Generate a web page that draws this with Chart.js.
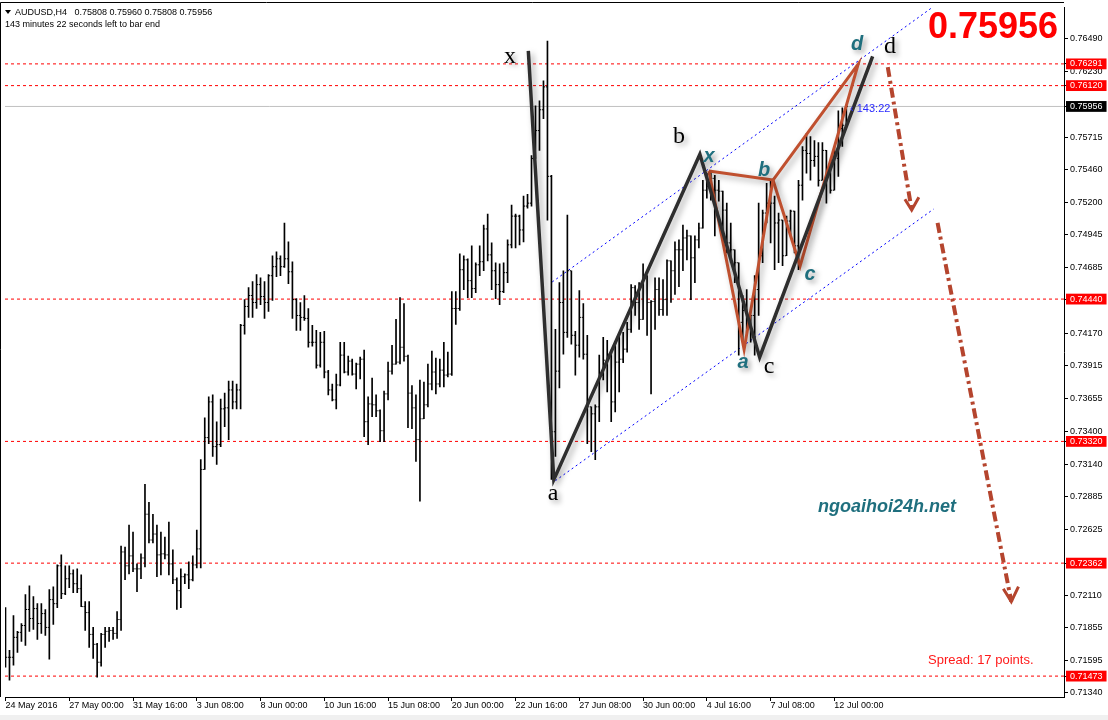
<!DOCTYPE html>
<html>
<head>
<meta charset="utf-8">
<script src="https://cdn.jsdelivr.net/npm/chart.js@4.4.1/dist/chart.umd.min.js"></script>
<style>
  html, body { margin: 0; padding: 0; background: #fff; }
  #chart { display: block; }
</style>
</head>
<body>
<canvas id="chart" width="1108" height="720"></canvas>
<script>
// AUDUSD H4, 24 May 2016 08:00 .. 12 Jul 2016 12:00 (one value per bar)
const opens = [
  0.71598,0.71621,0.71621,0.71778,0.71817,0.71871,0.71997,0.71926,0.72004,0.71887,
  0.71965,0.71856,0.72075,0.72043,0.72341,0.72122,0.72239,0.72278,0.72200,0.72161,
  0.72020,0.71973,0.71801,0.71723,0.71582,0.71801,0.71825,0.71832,0.71809,0.71918,
  0.72450,0.72341,0.72419,0.72317,0.72317,0.72403,0.72747,0.72544,0.72591,0.72427,
  0.72435,0.72427,0.72356,0.72231,0.72145,0.72255,0.72270,0.72231,0.72348,0.72474,
  0.73099,0.73350,0.73631,0.73279,0.73295,0.73576,0.73584,0.73725,0.73631,0.73725,
  0.74233,0.74382,0.74468,0.74413,0.74554,0.74460,0.74413,0.74624,0.74695,0.74757,
  0.74695,0.74757,0.74655,0.74436,0.74311,0.74296,0.74288,0.74100,0.74100,0.73920,
  0.74100,0.73866,0.73725,0.73647,0.73764,0.73999,0.73866,0.73952,0.73850,0.73928,
  0.73967,0.73475,0.73615,0.73608,0.73561,0.73404,0.73694,0.73873,0.73928,0.73944,
  0.74061,0.73990,0.73700,0.73584,0.73334,0.73498,0.73608,0.73772,0.73866,0.73772,
  0.73881,0.73842,0.73850,0.74366,0.74366,0.74671,0.74749,0.74585,0.74523,0.74710,
  0.74734,0.74992,0.74788,0.74663,0.74554,0.74499,0.74648,0.74867,0.75093,0.75093,
  0.74984,0.75172,0.75195,0.75547,0.75766,0.75930,0.76110,0.75406,0.73396,0.73873,
  0.74413,0.74178,0.74663,0.74155,0.74077,0.74296,0.74006,0.73592,0.73537,0.73592,
  0.73842,0.73959,0.74006,0.73631,0.73944,0.73967,0.74046,0.74202,0.74530,0.74413,
  0.74280,0.74624,0.74413,0.74421,0.74515,0.74358,0.74436,0.74741,0.74663,0.74828,
  0.74828,0.74921,0.74937,0.74765,0.74906,0.74999,0.75297,0.75328,0.75390,0.75297,
  0.75289,0.75140,0.74882,0.74828,0.74726,0.74257,0.74350,0.74280,0.74311,0.74515,
  0.74781,0.75117,0.75195,0.75195,0.75039,0.75062,0.74781,0.75054,0.75132,0.74859,
  0.75336,0.75610,0.75586,0.75531,0.75563,0.75375,0.75610,0.75453,0.75297,0.75547,
  0.75782,0.75808
];
const highs = [
  0.72012,0.71676,0.71950,0.71825,0.71887,0.72114,0.72184,0.72098,0.72043,0.72043,
  0.71997,0.72153,0.72176,0.72348,0.72427,0.72341,0.72341,0.72309,0.72317,0.72270,
  0.72059,0.72059,0.71856,0.71731,0.71809,0.71856,0.71856,0.71856,0.71981,0.72497,
  0.72489,0.72661,0.72607,0.72356,0.72435,0.72982,0.72841,0.72747,0.72661,0.72607,
  0.72568,0.72685,0.72466,0.72247,0.72317,0.72278,0.72372,0.72419,0.72622,0.73177,
  0.73506,0.73670,0.73686,0.73475,0.73654,0.73701,0.73795,0.73795,0.73772,0.74241,
  0.74436,0.74530,0.74577,0.74632,0.74608,0.74577,0.74632,0.74781,0.74812,0.74781,
  0.75039,0.74890,0.74734,0.74444,0.74413,0.74468,0.74366,0.74233,0.74194,0.74178,
  0.74186,0.73880,0.73772,0.73850,0.74100,0.74100,0.73991,0.73967,0.73936,0.73983,
  0.74038,0.73670,0.73819,0.73686,0.73568,0.73717,0.73944,0.74077,0.74280,0.74452,
  0.74405,0.74000,0.73760,0.73686,0.73803,0.73787,0.73928,0.74030,0.73975,0.73967,
  0.74100,0.74022,0.74499,0.74499,0.74796,0.74781,0.74757,0.74859,0.74726,0.74859,
  0.75023,0.75109,0.74882,0.74726,0.74718,0.74726,0.74906,0.75179,0.75109,0.75101,
  0.75250,0.75265,0.75570,0.75961,0.76000,0.76157,0.76470,0.75414,0.74202,0.74569,
  0.74663,0.75101,0.74663,0.74186,0.74507,0.74405,0.74155,0.73592,0.73608,0.73999,
  0.74139,0.74116,0.74038,0.74100,0.74155,0.74178,0.74257,0.74554,0.74546,0.74569,
  0.74718,0.74624,0.74429,0.74608,0.74608,0.74593,0.74749,0.74741,0.74890,0.74906,
  0.75023,0.74984,0.74937,0.74937,0.75039,0.75375,0.75430,0.75453,0.75414,0.75375,
  0.75289,0.75195,0.75039,0.74828,0.74726,0.74468,0.74515,0.74311,0.74624,0.75195,
  0.75140,0.75351,0.75375,0.75250,0.75117,0.75062,0.75093,0.75140,0.75132,0.75375,
  0.75641,0.75742,0.75719,0.75688,0.75672,0.75672,0.75610,0.75484,0.75641,0.75922,
  0.75946,0.75960
];
const lows = [
  0.71543,0.71441,0.71559,0.71660,0.71746,0.71715,0.71825,0.71840,0.71762,0.71809,
  0.71793,0.71606,0.71879,0.72012,0.72083,0.72114,0.72169,0.72130,0.72130,0.72020,
  0.71832,0.71699,0.71613,0.71465,0.71551,0.71699,0.71746,0.71762,0.71770,0.71832,
  0.72231,0.72278,0.72294,0.72137,0.72239,0.72333,0.72521,0.72521,0.72255,0.72270,
  0.72395,0.72270,0.72200,0.71997,0.72012,0.72200,0.72161,0.72223,0.72325,0.72325,
  0.73099,0.73303,0.73201,0.73138,0.73279,0.73436,0.73334,0.73576,0.73576,0.73576,
  0.74163,0.74296,0.74296,0.74366,0.74397,0.74288,0.74343,0.74429,0.74616,0.74624,
  0.74690,0.74562,0.74288,0.74194,0.74194,0.74272,0.74061,0.74069,0.73897,0.73905,
  0.73819,0.73686,0.73639,0.73576,0.73756,0.73858,0.73842,0.73842,0.73733,0.73811,
  0.73357,0.73295,0.73514,0.73514,0.73318,0.73318,0.73647,0.73850,0.73928,0.73930,
  0.73952,0.73428,0.73420,0.73162,0.72849,0.73498,0.73592,0.73725,0.73694,0.73748,
  0.73748,0.73827,0.73840,0.74241,0.74350,0.74515,0.74452,0.74452,0.74491,0.74624,
  0.74663,0.74741,0.74515,0.74444,0.74397,0.74491,0.74569,0.74843,0.74843,0.74867,
  0.74890,0.75156,0.75172,0.75547,0.75610,0.75860,0.75062,0.73021,0.73201,0.73741,
  0.74006,0.74139,0.74085,0.73842,0.73983,0.73967,0.73303,0.73240,0.73177,0.73475,
  0.73803,0.73709,0.73475,0.73553,0.73709,0.73940,0.74022,0.74178,0.74311,0.74202,
  0.74280,0.74155,0.73694,0.74202,0.74311,0.74311,0.74311,0.74413,0.74476,0.74538,
  0.74663,0.74749,0.74436,0.74569,0.74843,0.74999,0.75234,0.75218,0.74937,0.75211,
  0.74976,0.74804,0.74726,0.74569,0.73999,0.74100,0.74178,0.74100,0.73999,0.74311,
  0.74726,0.75039,0.74882,0.74671,0.74726,0.74702,0.74781,0.74937,0.74804,0.74671,
  0.75218,0.75430,0.75375,0.75484,0.75328,0.75375,0.75195,0.75273,0.75297,0.75406,
  0.75641,0.75808
];
const closes = [
  0.71621,0.71621,0.71778,0.71817,0.71871,0.71997,0.71926,0.72004,0.71887,0.71965,
  0.71856,0.72075,0.72043,0.72341,0.72122,0.72239,0.72278,0.72200,0.72161,0.72020,
  0.71973,0.71801,0.71723,0.71582,0.71801,0.71825,0.71832,0.71809,0.71918,0.72450,
  0.72341,0.72419,0.72317,0.72317,0.72403,0.72747,0.72544,0.72591,0.72427,0.72435,
  0.72427,0.72356,0.72231,0.72145,0.72255,0.72270,0.72231,0.72348,0.72474,0.73099,
  0.73350,0.73631,0.73279,0.73295,0.73576,0.73584,0.73725,0.73631,0.73725,0.74233,
  0.74382,0.74468,0.74413,0.74554,0.74460,0.74413,0.74624,0.74695,0.74757,0.74695,
  0.74757,0.74655,0.74436,0.74311,0.74296,0.74288,0.74100,0.74100,0.73920,0.74100,
  0.73866,0.73725,0.73647,0.73764,0.73999,0.73866,0.73952,0.73850,0.73928,0.73967,
  0.73475,0.73615,0.73608,0.73561,0.73404,0.73694,0.73873,0.73928,0.73944,0.74061,
  0.73990,0.73700,0.73584,0.73334,0.73498,0.73608,0.73772,0.73866,0.73772,0.73881,
  0.73842,0.73850,0.74366,0.74366,0.74671,0.74749,0.74585,0.74523,0.74710,0.74734,
  0.74992,0.74788,0.74663,0.74554,0.74499,0.74648,0.74867,0.75093,0.75093,0.74984,
  0.75172,0.75195,0.75547,0.75766,0.75930,0.76110,0.75406,0.73396,0.73873,0.74413,
  0.74178,0.74663,0.74155,0.74077,0.74296,0.74006,0.73592,0.73537,0.73592,0.73842,
  0.73959,0.74006,0.73631,0.73944,0.73967,0.74046,0.74202,0.74530,0.74413,0.74280,
  0.74624,0.74413,0.74421,0.74515,0.74358,0.74436,0.74741,0.74663,0.74828,0.74828,
  0.74921,0.74937,0.74765,0.74906,0.74999,0.75297,0.75328,0.75390,0.75297,0.75289,
  0.75140,0.74882,0.74828,0.74726,0.74257,0.74350,0.74280,0.74311,0.74515,0.74781,
  0.75117,0.75195,0.75195,0.75039,0.75062,0.74781,0.75054,0.75132,0.74859,0.75336,
  0.75610,0.75586,0.75531,0.75563,0.75375,0.75610,0.75453,0.75297,0.75547,0.75782,
  0.75808,0.75956
];

// time axis labels and the bar each one sits on
const dateLabels = ['24 May 2016','27 May 00:00','31 May 16:00','3 Jun 08:00','8 Jun 00:00',
  '10 Jun 16:00','15 Jun 08:00','20 Jun 00:00','22 Jun 16:00','27 Jun 08:00',
  '30 Jun 00:00','4 Jul 16:00','7 Jul 08:00','12 Jul 00:00'];
const dateTickBars = [0,16,32,48,64,80,96,112,128,144,160,176,192,208];

// price axis
const priceTicks = [0.76490,0.76230,0.75715,0.75460,0.75200,0.74945,0.74685,0.74170,0.73915,
  0.73655,0.73400,0.73140,0.72885,0.72625,0.72110,0.71855,0.71595,0.71340];
const redLevels = [0.76291,0.76120,0.74440,0.73320,0.72362,0.71473];
const bidPrice = 0.75956;

// drawn objects, as (bar, price)
const abcdBars   = [131.2, 137.6, 174.25, 189.25, 217.6];   // x a b c d
const abcdPrices = [0.76394, 0.73019, 0.75580, 0.73983, 0.76350];
const xabcdBars   = [176.5, 185.35, 192.6, 199.4, 214.0];   // X A B C D
const xabcdPrices = [0.75448, 0.74043, 0.75377, 0.74700, 0.76291];
const chanUpBars = [137.2, 232.6],  chanUpPrices = [0.74575, 0.76736];
const chanLoBars = [138.0, 232.9],  chanLoPrices = [0.73011, 0.75148];
const arrow1Bars = [221.4, 227.4],  arrow1Prices = [0.76266, 0.75140];
const head1Bars  = [225.7, 227.4, 229.2], head1Prices = [0.75226, 0.75140, 0.75242];
const arrow2Bars = [233.9, 252.4],  arrow2Prices = [0.75039, 0.72059];
const head2Bars  = [250.4, 252.4, 254.2], head2Prices = [0.72161, 0.72059, 0.72177];

const X_MIN = -0.125, X_MAX = 265.625;
const Y_MIN = 0.713085, Y_MAX = 0.767355;

const FONT = 'Liberation Sans, Arial, sans-serif';
const BROWN = '#c0502f';
const TEAL = '#1f6f7e';

function pts(bars, prices) {
  return bars.map((b, i) => ({ x: b, y: prices[i] }));
}
function lineDs(data, color, width, extra) {
  return Object.assign({
    type: 'line', data: data, borderColor: color, borderWidth: width,
    pointRadius: 0, tension: 0, fill: false
  }, extra || {});
}

const datasets = [];

redLevels.forEach(v => {
  datasets.push(lineDs([{x: X_MIN, y: v}, {x: X_MAX, y: v}], '#ff0000', 1, {borderDash: [3, 3], order: 20}));
});
datasets.push(lineDs([{x: X_MIN, y: bidPrice}, {x: X_MAX, y: bidPrice}], '#c0c0c0', 1, {order: 20}));
datasets.push(lineDs(pts(chanUpBars, chanUpPrices), '#0000ff', 1, {borderDash: [2, 3], order: 19}));
datasets.push(lineDs(pts(chanLoBars, chanLoPrices), '#0000ff', 1, {borderDash: [2, 3], order: 19}));

// OHLC bars
datasets.push({
  type: 'bar',
  data: highs.map((h, i) => ({ x: i, y: [lows[i], h] })),
  backgroundColor: '#000',
  barThickness: 1,
  grouped: false,
  order: 15
});
datasets.push({
  type: 'scatter',
  data: opens.map((o, i) => ({ x: i - 0.25, y: o })),
  pointStyle: 'line', pointRadius: 0.6, pointBorderWidth: 1, pointBorderColor: '#000',
  order: 14
});
datasets.push({
  type: 'scatter',
  data: closes.map((c, i) => ({ x: i + 0.25, y: c })),
  pointStyle: 'line', pointRadius: 0.6, pointBorderWidth: 1, pointBorderColor: '#000',
  order: 14
});

// harmonic triangles X-A-B and B-C-D
const xi = [0, 1, 2, 0], ci = [2, 3, 4, 2];
datasets.push(lineDs(xi.map(k => ({x: xabcdBars[k], y: xabcdPrices[k]})), BROWN, 3, {shadow: true, order: 6}));
datasets.push(lineDs(ci.map(k => ({x: xabcdBars[k], y: xabcdPrices[k]})), BROWN, 3, {shadow: true, order: 6}));
// x a b c d zigzag
datasets.push(lineDs(pts(abcdBars, abcdPrices), '#2e2e2e', 3.5, {shadow: true, order: 5}));

// projected arrows
datasets.push(lineDs(pts(arrow1Bars, arrow1Prices), '#b5452e', 4, {borderDash: [10, 4, 3, 4], order: 4}));
datasets.push(lineDs(pts(head1Bars, head1Prices), '#b5452e', 3, {order: 4}));
datasets.push(lineDs(pts(arrow2Bars, arrow2Prices), '#b5452e', 4, {borderDash: [10, 4, 3, 4], order: 4}));
datasets.push(lineDs(pts(head2Bars, head2Prices), '#b5452e', 3, {order: 4}));

const isMarked = v => redLevels.includes(v) || v === bidPrice;

const overlay = {
  id: 'overlay',
  beforeDraw(chart) {
    const ctx = chart.ctx;
    ctx.save();
    ctx.fillStyle = '#fff';
    ctx.fillRect(0, 0, chart.width, chart.height);
    ctx.fillStyle = '#f0f0f0';
    ctx.fillRect(0, 715, chart.width, chart.height - 715);
    ctx.restore();
  },
  beforeDatasetDraw(chart, args) {
    if (chart.data.datasets[args.index].shadow) {
      const ctx = chart.ctx;
      ctx.save();
      ctx.shadowColor = 'rgba(0,0,0,0.35)';
      ctx.shadowBlur = 6;
      ctx.shadowOffsetX = 3;
      ctx.shadowOffsetY = 3;
    }
  },
  afterDatasetDraw(chart, args) {
    if (chart.data.datasets[args.index].shadow) chart.ctx.restore();
  },
  afterDraw(chart) {
    const ctx = chart.ctx;
    const a = chart.chartArea;
    ctx.save();
    // frame (left, top)
    ctx.strokeStyle = '#000';
    ctx.lineWidth = 1;
    ctx.beginPath();
    ctx.moveTo(0.5, a.bottom);
    ctx.lineTo(0.5, 2.5);
    ctx.lineTo(a.right, 2.5);
    ctx.stroke();

    // header
    ctx.fillStyle = '#000';
    ctx.beginPath();
    ctx.moveTo(5, 10); ctx.lineTo(11, 10); ctx.lineTo(8, 14); ctx.closePath();
    ctx.fill();
    ctx.font = '9px ' + FONT;
    ctx.textBaseline = 'alphabetic';
    ctx.fillText('AUDUSD,H4   0.75808 0.75960 0.75808 0.75956', 15, 15);
    ctx.fillText('143 minutes 22 seconds left to bar end', 5, 27);

    // big price
    ctx.fillStyle = '#ff0000';
    ctx.font = 'bold 36px ' + FONT;
    ctx.fillText('0.75956', 928, 38);

    // timer
    ctx.fillStyle = '#2a2aff';
    ctx.font = '11px ' + FONT;
    ctx.fillText('\u2039 143:22', 850, 112);

    // spread
    ctx.fillStyle = '#ff1a1a';
    ctx.font = '13px ' + FONT;
    ctx.fillText('Spread: 17 points.', 928, 664);

    // site
    ctx.fillStyle = TEAL;
    ctx.font = 'italic bold 18px ' + FONT;
    ctx.fillText('ngoaihoi24h.net', 818, 512);

    // pattern letters
    ctx.shadowColor = 'rgba(0,0,0,0.35)';
    ctx.shadowBlur = 5;
    ctx.shadowOffsetX = 3;
    ctx.shadowOffsetY = 3;
    ctx.textAlign = 'center';
    ctx.fillStyle = '#000';
    ctx.font = '24px Liberation Serif, Times New Roman, serif';
    [['x', 510, 63], ['a', 553, 500], ['b', 679, 143], ['c', 769, 373], ['d', 890, 53]]
      .forEach(t => ctx.fillText(t[0], t[1], t[2]));
    ctx.fillStyle = TEAL;
    ctx.font = 'italic bold 20px ' + FONT;
    [['x', 709, 162], ['a', 743, 368], ['b', 764, 176], ['c', 810, 280], ['d', 857, 50]]
      .forEach(t => ctx.fillText(t[0], t[1], t[2]));
    ctx.restore();
  }
};

new Chart(document.getElementById('chart').getContext('2d'), {
  type: 'bar',
  data: { datasets: datasets },
  options: {
    responsive: false,
    devicePixelRatio: 1,
    animation: false,
    events: [],
    layout: { padding: { left: 1, top: 3, right: 0, bottom: 0 } },
    plugins: { legend: { display: false }, tooltip: { enabled: false } },
    scales: {
      x: {
        type: 'linear',
        min: X_MIN,
        max: X_MAX,
        offset: false,
        afterBuildTicks: (scale) => { scale.ticks = dateTickBars.map(v => ({ value: v })); },
        afterFit: (scale) => { scale.height = 23; },
        grid: { display: true, drawOnChartArea: false, drawTicks: true, tickLength: 4, color: '#000', offset: false },
        border: { display: true, color: '#000', width: 1 },
        ticks: {
          autoSkip: false, maxRotation: 0, minRotation: 0, align: 'start', padding: -1,
          color: '#000', font: { family: FONT, size: 9 },
          callback: (value, index) => dateLabels[index]
        }
      },
      y: {
        type: 'linear',
        position: 'right',
        min: Y_MIN,
        max: Y_MAX,
        afterBuildTicks: (scale) => {
          const all = priceTicks.concat(redLevels, [bidPrice]).sort((p, q) => p - q);
          scale.ticks = all.map(v => ({ value: v }));
        },
        afterFit: (scale) => { scale.width = 44; },
        grid: { display: true, drawOnChartArea: false, drawTicks: true, tickLength: 4, color: '#000' },
        border: { display: true, color: '#000', width: 1 },
        ticks: {
          autoSkip: false, padding: 2,
          font: { family: FONT, size: 9 },
          color: (c) => isMarked(c.tick.value) ? '#fff' : '#000',
          showLabelBackdrop: (c) => isMarked(c.tick.value),
          backdropColor: (c) => c.tick.value === bidPrice ? '#000' : '#ff0000',
          backdropPadding: { left: 4, right: 4, top: 0, bottom: 0 },
          callback: (value) => value.toFixed(5)
        }
      }
    }
  },
  plugins: [overlay]
});
</script>
</body>
</html>
